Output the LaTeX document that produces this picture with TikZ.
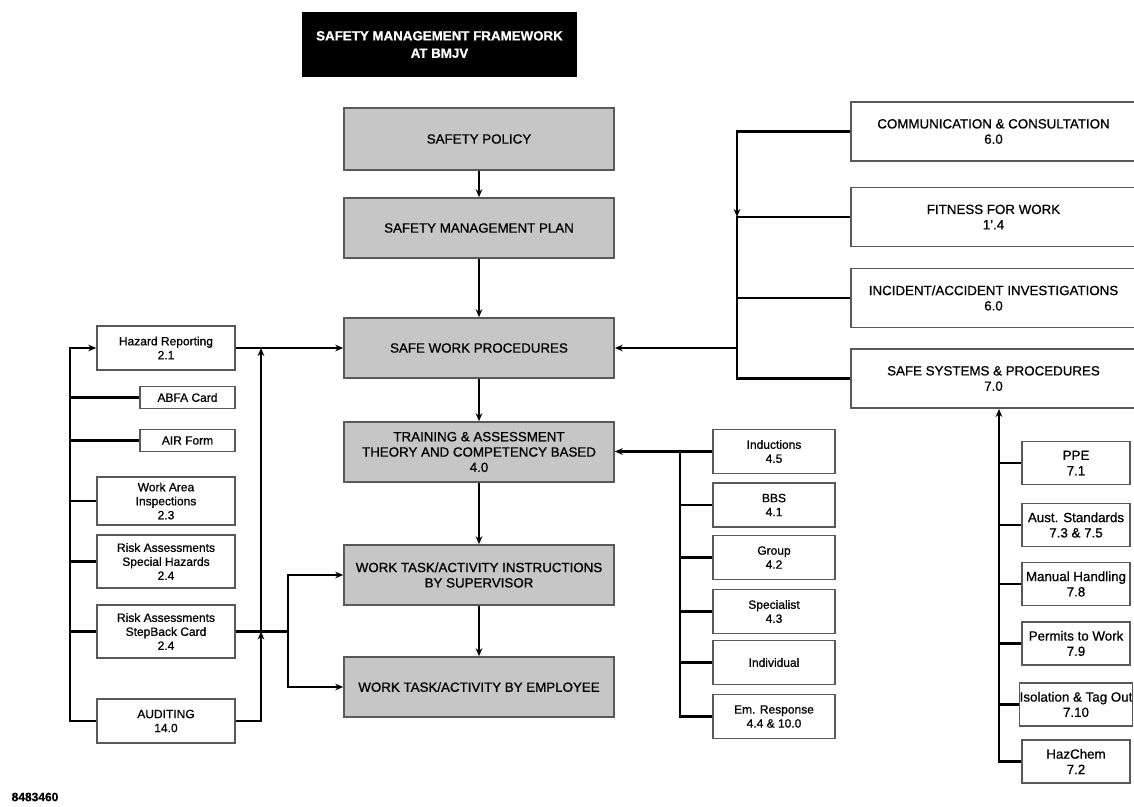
\documentclass[tikz,border=0pt]{standalone}
\usepackage{fontspec}
\setmainfont{Liberation Sans}[FakeBold=0.8]
\usepackage{tikz}
\usetikzlibrary{arrows.meta, positioning, calc}
\definecolor{boxGray}{RGB}{198,198,198}
\definecolor{edgeGray}{gray}{0.35}

\begin{document}
\begin{tikzpicture}[x=0.75pt, y=-0.75pt, >={Stealth[length=6pt,width=5pt]},
    link/.style={line width=1.8pt},
    framebox/.style={draw=edgeGray, line width=1.2pt, inner sep=0pt, align=center},
    titlebox/.style={fill=black, text=white, minimum width=206.25pt, minimum height=48.75pt, inner sep=0pt, align=center, font=\fontsize{10}{13}\selectfont\bfseries},
    mainbox/.style={framebox, fill=boxGray, minimum width=202.5pt, minimum height=45pt, font=\fontsize{10}{11.5}\selectfont},
    sidebox/.style={framebox, fill=white, minimum width=213.75pt, minimum height=44.5pt, font=\fontsize{10}{11.5}\selectfont},
    itembox/.style={framebox, fill=white, minimum width=91.5pt, minimum height=33pt, font=\fontsize{9}{10.5}\selectfont},
    sysbox/.style={framebox, fill=white, minimum width=81pt, minimum height=32pt, font=\fontsize{10}{11.5}\selectfont},
    leftbox/.style={framebox, fill=white, minimum width=103.5pt, font=\fontsize{9}{10.5}\selectfont},
    cardbox/.style={framebox, fill=white, minimum width=71.25pt, minimum height=16.5pt, font=\fontsize{9}{10.5}\selectfont}]
    \useasboundingbox (0,0) rectangle (1134,806);

    \coordinate (lbus) at (70,0);
    \coordinate (rbus) at (261,0);
    \coordinate (ibus) at (288,0);
    \coordinate (mbus) at (680,0);
    \coordinate (tbus) at (737,0);
    \coordinate (bbus) at (999,0);

    \node[titlebox] (title) at (439.5,44.5) {SAFETY MANAGEMENT FRAMEWORK\\AT BMJV};

    % centre column
    \node[mainbox, minimum height=46.5pt] (policy) at (479,139) {SAFETY POLICY};
    \node[mainbox] (plan) at (479,228) {SAFETY MANAGEMENT PLAN};
    \node[mainbox] (swp) at (479,348) {SAFE WORK PROCEDURES};
    \node[mainbox] (train) at (479,452) {TRAINING \& ASSESSMENT\\THEORY AND COMPETENCY BASED\\4.0};
    \node[mainbox] (instr) at (479,575) {WORK TASK/ACTIVITY INSTRUCTIONS\\BY SUPERVISOR};
    \node[mainbox] (employee) at (479,687) {WORK TASK/ACTIVITY BY EMPLOYEE};

    % right column
    \node[sidebox] (comm) at (993.5,131.5) {COMMUNICATION \& CONSULTATION\\6.0};
    \node[sidebox] (fit) at (993.5,217) {FITNESS FOR WORK\\1'.4};
    \node[sidebox] (inc) at (993.5,298) {INCIDENT/ACCIDENT INVESTIGATIONS\\6.0};
    \node[sidebox] (sys) at (993.5,378.5) {SAFE SYSTEMS \& PROCEDURES\\7.0};

    % training items
    \node[itembox] (ind) at (774,451.5) {Inductions\\4.5};
    \node[itembox] (bbs) at (774,505) {BBS\\4.1};
    \node[itembox] (grp) at (774,557.5) {Group\\4.2};
    \node[itembox] (spec) at (774,611.5) {Specialist\\4.3};
    \node[itembox] (indiv) at (774,662.5) {Individual};
    \node[itembox] (em) at (774,716.5) {Em. Response\\4.4 \& 10.0};

    % safe systems items
    \node[sysbox] (ppe) at (1076,463) {PPE\\7.1};
    \node[sysbox] (aus) at (1076,525) {Aust. Standards\\7.3 \& 7.5};
    \node[sysbox] (man) at (1076,584) {Manual Handling\\7.8};
    \node[sysbox] (per) at (1076,643.5) {Permits to Work\\7.9};
    \node[sysbox] (iso) at (1076,704.5) {Isolation \& Tag Out\\7.10};
    \node[sysbox] (haz) at (1076,761.5) {HazChem\\7.2};

    % left column
    \node[leftbox, minimum height=33pt] (hazrep) at (166,348) {Hazard Reporting\\2.1};
    \node[cardbox] (abfa) at (187.5,397.5) {ABFA Card};
    \node[cardbox] (air) at (187.5,440.5) {AIR Form};
    \node[leftbox, minimum height=36pt] (wai) at (166,501) {Work Area\\Inspections\\2.3};
    \node[leftbox, minimum height=40pt] (rash) at (166,561.5) {Risk Assessments\\Special Hazards\\2.4};
    \node[leftbox, minimum height=40pt] (rasb) at (166,631.5) {Risk Assessments\\StepBack Card\\2.4};
    \node[leftbox, minimum height=33pt] (aud) at (166,721) {AUDITING\\14.0};

    \node[font=\fontsize{9}{10}\selectfont\bfseries, inner sep=0pt] (code) at (35,797) {8483460};

    \foreach \a/\b in {policy/plan, plan/swp, swp/train, train/instr, instr/employee}
        \draw[link,->] (\a) -- (\b);

    \draw[link,->] (hazrep.east) -- (swp.west);
    \draw[link,->] (aud.west) -| (lbus |- hazrep.west) -- (hazrep.west);
    \foreach \n in {abfa, air, wai, rash, rasb}
        \draw[link] (\n.west) -- (lbus |- \n.west);
    \draw[link,->] (aud.east) -| (rbus |- rasb.east);
    \draw[link,->] (rbus |- rasb.east) -- (rbus |- hazrep.east);
    \draw[link] (rasb.east) -- (ibus |- rasb.east);
    \draw[link,->] (ibus |- rasb.east) |- (instr.west);
    \draw[link,->] (ibus |- rasb.east) |- (employee.west);

    \draw[link,->] (comm.west) -| (tbus |- fit.west);
    \draw[link] (fit.west) -- (tbus |- fit.west) -- (tbus |- sys.west) -- (sys.west);
    \draw[link] (inc.west) -- (tbus |- inc.west);
    \draw[link,->] (tbus |- swp.east) -- (swp.east);

    \draw[link,->] (ind.west) -- (train.east |- ind.west);
    \draw[link] (mbus |- ind.west) |- (em.west);
    \foreach \n in {bbs, grp, spec, indiv}
        \draw[link] (\n.west) -- (mbus |- \n.west);

    \draw[link,->] (haz.west) -| (bbus |- sys.south);
    \foreach \n in {ppe, aus, man, per, iso}
        \draw[link] (\n.west) -- (bbus |- \n.west);
\end{tikzpicture}
\end{document}
